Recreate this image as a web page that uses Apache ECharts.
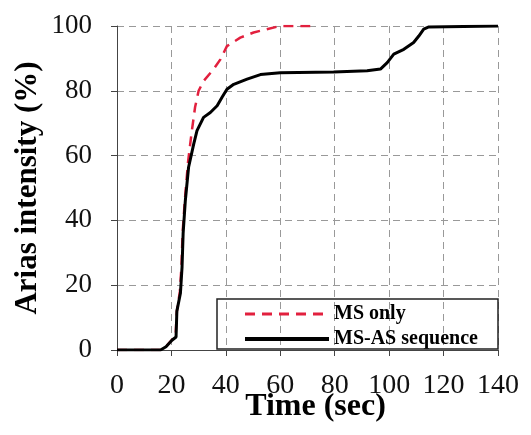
<!DOCTYPE html>
<html><head><meta charset="utf-8">
<script src="https://cdn.jsdelivr.net/npm/echarts@6/dist/echarts.min.js"></script>
<style>html,body{margin:0;padding:0;background:#fff}#c{width:531px;height:435px}</style>
</head><body><div id="c"></div>
<script>
var xTicks = [0, 20, 40, 60, 80, 100, 120, 140];
var yTicks = [0, 20, 40, 60, 80, 100];
var msOnlyT = [0, 16, 18, 20, 21.5, 22, 23.1, 23.7, 24.1, 24.9, 26.1, 27.4, 28.7, 30, 31.8, 35.5, 38, 40.4, 45.3, 50.2, 55, 60, 71];
var msOnlyV = [0, 0, 1, 3, 4, 12, 18, 26, 36, 46, 58, 67, 75, 80, 83, 86.7, 89.7, 93.8, 96.4, 98, 99, 100, 100];
var msAsT = [0, 16, 18, 20.2, 21.7, 22, 23.3, 23.9, 24.3, 25.1, 26.3, 28.2, 29.4, 31.8, 34.3, 36.8, 38.6, 40.4, 42.9, 47.8, 52.7, 60, 79.6, 91.9, 96.8, 99.3, 101.7, 105.4, 109, 110.9, 112.7, 114.6, 140];
var msAsV = [0, 0, 1, 3, 4, 12, 17.5, 25.6, 36, 46, 56.4, 63.6, 67.7, 71.8, 73.3, 75.4, 78, 80.5, 82, 83.6, 85, 85.6, 85.8, 86.2, 86.7, 88.7, 91.3, 92.8, 94.9, 96.9, 99, 99.7, 100];
function pairs(t, v) { return t.map(function (x, i) { return [x, v[i]]; }); }

var chart = echarts.init(document.getElementById('c'));
var font = 'Liberation Serif';
chart.setOption({
  animation: false,
  grid: { left: 117, right: 33, top: 26, bottom: 85, containLabel: false, outerBoundsMode: 'none' },
  xAxis: {
    type: 'value', min: xTicks[0], max: xTicks[xTicks.length - 1], interval: 20,
    name: 'Time (sec)', nameLocation: 'middle', nameGap: 41, nameMoveOverlap: false,
    nameTextStyle: { fontFamily: font, fontSize: 32, fontWeight: 'bold', color: '#000', padding: [0, 0, 0, 16] },
    axisLine: { lineStyle: { color: '#444', width: 1 } },
    axisTick: { show: true, length: 6, lineStyle: { color: '#444' } },
    axisLabel: { fontFamily: font, fontSize: 28, color: '#111', margin: 22 },
    splitLine: { show: true, lineStyle: { color: '#999', type: [7, 5], width: 1 } }
  },
  yAxis: {
    type: 'value', min: yTicks[0], max: yTicks[yTicks.length - 1], interval: 20,
    name: 'Arias intensity (%)', nameLocation: 'middle', nameGap: 74, nameMoveOverlap: false,
    nameTextStyle: { fontFamily: font, fontSize: 31, fontWeight: 'bold', color: '#000' },
    axisLine: { show: true, lineStyle: { color: '#444', width: 1 } },
    axisTick: { show: true, length: 6, lineStyle: { color: '#444' } },
    axisLabel: { fontFamily: font, fontSize: 27, color: '#111', margin: 25 },
    splitLine: { show: true, lineStyle: { color: '#999', type: [7, 5], width: 1 } }
  },
  legend: {
    orient: 'vertical', left: 238, top: 299, padding: 5,
    itemWidth: 84, itemHeight: 14, itemGap: 5,
    itemStyle: { opacity: 0 },
    textStyle: { fontFamily: font, fontSize: 20, fontWeight: 'bold', color: '#000', lineHeight: 20 },
    data: [
      { name: 'MS only', lineStyle: { width: 3, type: [10, 7], color: '#e2203e' } },
      { name: 'MS-AS sequence', lineStyle: { width: 4, color: '#000' } }
    ]
  },
  graphic: [{
    type: 'rect', z: 100, silent: true,
    shape: { x: 217, y: 299, width: 281, height: 50 },
    style: { fill: null, stroke: '#222', lineWidth: 1.5 }
  }],
  series: [
    {
      name: 'MS only', type: 'line', showSymbol: false, symbol: 'none',
      data: pairs(msOnlyT, msOnlyV),
      lineStyle: { color: '#e2203e', width: 2.5, type: [10, 7] },
      itemStyle: { color: '#e2203e' }, z: 2
    },
    {
      name: 'MS-AS sequence', type: 'line', showSymbol: false, symbol: 'none',
      data: pairs(msAsT, msAsV),
      lineStyle: { color: '#000', width: 3 },
      itemStyle: { color: '#000' }, z: 3
    }
  ]
});
</script></body></html>
